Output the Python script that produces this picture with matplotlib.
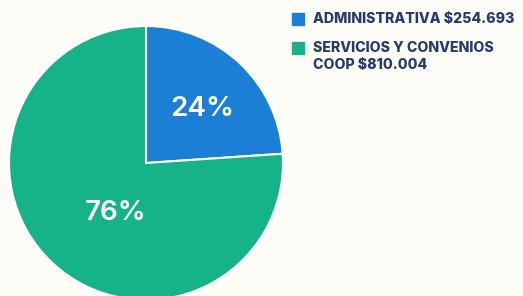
import matplotlib
matplotlib.use("Agg")
import matplotlib.pyplot as plt
from matplotlib.patches import Rectangle

categories = ["ADMINISTRATIVA", "SERVICIOS Y CONVENIOS\nCOOP"]
values = [254693, 810004]
value_labels = ["$254.693", "$810.004"]
colors = ["#1a7fd5", "#16b388"]
bg = "#fdfcf7"
text_dark = "#253a6e"

W, H = 523, 296
fig = plt.figure(figsize=(W / 100, H / 100), dpi=100, facecolor=bg)
ax = fig.add_axes([0, 0, 1, 1])
ax.set_facecolor(bg)

cx, cy, r = 146, H - 163, 137
wedges, texts, autotexts = ax.pie(
    values, colors=colors, startangle=90, counterclock=False,
    center=(cx, cy), radius=r, autopct=lambda p: f"{p:.0f}%",
    pctdistance=0.55,
    wedgeprops=dict(edgecolor="white", linewidth=1.5),
    textprops=dict(color="white", fontsize=20, fontweight="semibold", family="Inter"),
    frame=True,
)
ax.set_xlim(0, W)
ax.set_ylim(0, H)
ax.set_aspect("equal")
ax.axis("off")
label_pos = [(cx + 56, cy + 54), (cx - 30, cy - 50)]
for t, pos in zip(autotexts, label_pos):
    t.set_position(pos)
    t.set_ha("center")
    t.set_va("center")

# legend
leg_top = [13, 42]
line_gap = 17
for cat, val, col, top in zip(categories, value_labels, colors, leg_top):
    ax.add_patch(Rectangle((292, H - top - 12), 12, 12, color=col))
    label = f"{cat} {val}"
    for i, line in enumerate(label.split("\n")):
        baseline = top + 10 + line_gap * i
        ax.text(313, H - baseline, line, ha="left", va="baseline", fontsize=10.2,
                fontweight="heavy", family="Inter", color=text_dark)

fig.savefig("out.png", dpi=100, facecolor=bg)
